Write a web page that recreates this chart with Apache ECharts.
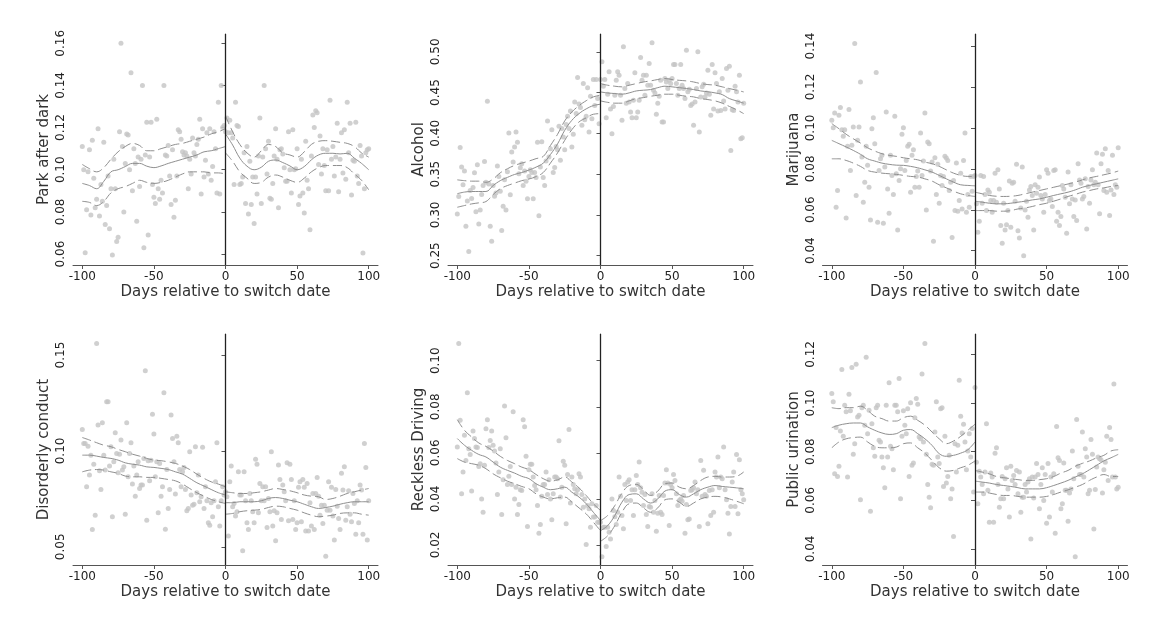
<!DOCTYPE html>
<html><head><meta charset="utf-8">
<script src="https://cdn.jsdelivr.net/npm/echarts@6/dist/echarts.min.js"></script>
<style>html,body{margin:0;padding:0;background:#fff}#c{width:1151px;height:631px}</style>
</head><body><div id="c"></div>
<script>
// ---------- data ----------
const dayStart = -100; // scatter values below are daily, from day -100 to day 100
const fitDaysLeft  = [-100,-95,-90,-85,-80,-75,-70,-65,-60,-55,-50,-45,-40,-35,-30,-25,-20,-15,-10,-5,0];
const fitDaysRight = [0,5,10,15,20,25,30,35,40,45,50,55,60,65,70,75,80,85,90,95,100];
const xTicks = [-100,-50,0,50,100];

// Park after dark
const parkPoints = [0.111,0.100,0.0606,0.081,0.099,0.1095,0.0785,0.114,0.096,0.082,
0.086,0.1195,0.078,0.093,0.085,0.113,0.074,0.083,0.097,0.072,
0.091,0.0595,0.105,0.091,0.066,0.068,0.118,0.160,0.111,0.080,
0.103,0.117,0.1165,0.100,0.146,0.090,0.110,0.103,0.0755,0.106,
0.092,0.105,0.140,0.063,0.107,0.1225,0.069,0.106,0.1225,0.093,
0.087,0.084,0.124,0.091,0.086,0.095,0.089,0.140,0.107,0.1065,
0.1115,0.097,0.0835,0.1095,0.0775,0.0855,0.097,0.119,0.118,0.1145,
0.1085,0.107,0.108,0.1065,0.091,0.105,0.098,0.115,0.108,0.1065,
0.112,0.1145,0.124,0.0885,0.1195,0.0965,0.1045,0.1175,0.098,0.1195,
0.095,0.1015,0.118,0.110,0.089,0.132,0.0885,0.140,0.120,0.121,
0.118,
0.1245,0.1175,0.1235,0.1175,0.115,0.093,0.132,0.121,0.1205,0.093,
0.0935,0.0965,0.108,0.084,0.111,0.079,0.104,0.0835,0.0965,0.0745,
0.0965,0.0885,0.1065,0.1245,0.084,0.106,0.140,0.110,0.098,0.1135,
0.0865,0.086,0.0935,0.1065,0.1195,0.105,0.082,0.1095,0.110,0.1075,
0.101,0.0945,0.0945,0.118,0.100,0.089,0.119,0.100,0.1005,0.110,
0.0835,0.0875,0.105,0.089,0.0795,0.1135,0.095,0.091,0.0715,0.1065,
0.126,0.120,0.128,0.127,0.1025,0.116,0.098,0.110,0.102,0.090,
0.1095,0.090,0.133,0.105,0.111,0.097,0.106,0.122,0.0895,0.105,
0.1175,0.0985,0.119,0.0955,0.132,0.108,0.122,0.088,0.1045,0.104,
0.1225,0.097,0.0935,0.1115,0.1065,0.0605,0.091,0.108,0.1095,0.110];
const parkFitL = [0.0935,0.0925,0.091,0.0945,0.099,0.100,0.1015,0.103,0.103,0.1017,0.101,0.1018,0.103,0.104,0.105,0.106,0.107,0.1085,0.109,0.110,0.111];
const parkHiL  = [0.1025,0.1005,0.099,0.101,0.105,0.1085,0.111,0.1125,0.1115,0.109,0.109,0.110,0.111,0.112,0.1125,0.1135,0.1145,0.1155,0.117,0.118,0.1195];
const parkLoL  = [0.085,0.0845,0.083,0.085,0.089,0.091,0.092,0.0935,0.095,0.094,0.0935,0.094,0.095,0.0965,0.098,0.099,0.099,0.099,0.0985,0.0985,0.098];
const parkFitR = [0.117,0.1117,0.1055,0.1017,0.100,0.1012,0.104,0.1046,0.1034,0.1018,0.100,0.1015,0.1047,0.107,0.1078,0.1078,0.1075,0.1078,0.1055,0.103,0.100];
const parkHiR  = [0.1255,0.118,0.112,0.108,0.106,0.109,0.112,0.111,0.108,0.107,0.106,0.1085,0.112,0.1135,0.1138,0.1135,0.113,0.1125,0.111,0.108,0.106];
const parkLoR  = [0.108,0.104,0.099,0.096,0.0935,0.094,0.0965,0.0975,0.0965,0.095,0.094,0.096,0.099,0.101,0.102,0.102,0.102,0.101,0.098,0.095,0.0905];

// Alcohol
const alcoholPoints = [0.301,0.3225,0.3825,0.3586,0.337,0.3537,0.286,0.317,0.2553,0.330,
0.320,0.3335,0.3516,0.304,0.3615,0.289,0.306,0.325,0.336,0.3656,
0.340,0.4393,0.338,0.286,0.2676,0.336,0.323,0.327,0.360,0.347,
0.329,0.281,0.3107,0.343,0.306,0.353,0.4004,0.3246,0.377,0.365,
0.3832,0.4016,0.389,0.3504,0.3578,0.3627,0.3361,0.3537,0.3414,0.3197,
0.3471,0.3553,0.352,0.3197,0.352,0.346,0.389,0.299,0.3586,0.3898,
0.346,0.336,0.366,0.4152,0.371,0.381,0.4045,0.352,0.358,0.384,
0.380,0.4086,0.367,0.406,0.3955,0.380,0.411,0.4209,0.406,0.4275,
0.3832,0.399,0.4385,0.4242,0.4684,0.436,0.4316,0.410,0.461,0.4168,
0.4209,0.456,0.4016,0.4455,0.418,0.466,0.434,0.466,0.4426,0.4119,
0.466,
0.4877,0.4578,0.466,0.419,0.448,0.4754,0.430,0.3996,0.433,0.4467,
0.465,0.4754,0.4713,0.4467,0.416,0.5061,0.4549,0.437,0.461,0.4385,
0.4262,0.419,0.4406,0.4742,0.419,0.4262,0.4406,0.493,0.465,0.4713,
0.4467,0.4713,0.459,0.4857,0.459,0.511,0.4529,0.4496,0.4234,0.437,
0.4455,0.465,0.414,0.414,0.4672,0.463,0.4549,0.465,0.461,0.4672,
0.4844,0.4844,0.461,0.4467,0.4549,0.4844,0.459,0.4549,0.4426,0.502,
0.451,0.454,0.434,0.436,0.410,0.4385,0.4549,0.500,0.4016,0.4447,
0.457,0.4603,0.4447,0.4496,0.4775,0.448,0.4221,0.4844,0.430,0.4742,
0.461,0.4275,0.451,0.428,0.4672,0.4398,0.430,0.4795,0.4529,0.4824,
0.3791,0.429,0.428,0.4578,0.451,0.4385,0.4713,0.3934,0.3947,0.437];
const alcoholFitL = [0.326,0.328,0.3287,0.3287,0.3287,0.336,0.342,0.346,0.3496,0.352,0.355,0.3586,0.3635,0.374,0.387,0.4037,0.416,0.4242,0.430,0.434,0.4357];
const alcoholHiL  = [0.343,0.342,0.3414,0.3414,0.340,0.344,0.3516,0.3566,0.3607,0.3635,0.366,0.369,0.3717,0.385,0.3988,0.4152,0.4262,0.434,0.440,0.4447,0.4467];
const alcoholLoL  = [0.3094,0.3115,0.3135,0.3148,0.3164,0.325,0.332,0.336,0.339,0.342,0.344,0.347,0.352,0.3635,0.376,0.3914,0.4045,0.414,0.419,0.4234,0.4242];
const alcoholFitR = [0.4508,0.4495,0.4488,0.448,0.4496,0.452,0.4529,0.4537,0.456,0.4578,0.457,0.456,0.455,0.4537,0.452,0.451,0.4496,0.4475,0.4426,0.4398,0.437];
const alcoholHiR  = [0.461,0.459,0.4578,0.457,0.459,0.461,0.463,0.4643,0.466,0.4672,0.466,0.465,0.4643,0.463,0.461,0.4598,0.459,0.457,0.4549,0.4529,0.4508];
const alcoholLoR  = [0.4398,0.438,0.437,0.437,0.4398,0.4426,0.4438,0.4455,0.4467,0.448,0.448,0.4467,0.4455,0.4447,0.4426,0.4414,0.4398,0.437,0.433,0.429,0.4242];

// Marijuana
const marijuanaPoints = [0.1037,0.1001,0.1073,0.0612,0.0694,0.1062,0.110,0.0991,0.0959,0.0991,
0.056,0.091,0.109,0.0792,0.0915,0.1005,0.1413,0.067,0.094,0.1005,
0.1225,0.0858,0.0637,0.0735,0.091,0.0817,0.071,0.055,0.0996,0.105,
0.0923,0.1271,0.0539,0.0792,0.0849,0.0866,0.0534,0.0809,0.1078,0.0702,
0.0583,0.0866,0.0768,0.0675,0.1057,0.0776,0.0501,0.0743,0.080,0.0969,
0.1001,0.0792,0.0841,0.091,0.092,0.0686,0.0866,0.0893,0.071,0.0763,
0.0789,0.071,0.0975,0.0768,0.0838,0.1073,0.0599,0.0931,0.0923,0.0789,
0.0833,0.0446,0.0854,0.0675,0.0822,0.0632,0.0768,0.0719,0.0763,0.0861,
0.0853,0.0841,0.0694,0.0735,0.0465,0.0743,0.0596,0.0828,0.0593,0.0645,
0.0779,0.0604,0.0841,0.0975,0.0588,0.0675,0.0612,0.0763,0.0691,0.0763,
0.0768,
0.0629,0.049,0.0544,0.0768,0.0632,0.0763,0.0675,0.0596,0.0697,0.0686,
0.0645,0.0588,0.0645,0.0779,0.0637,0.0795,0.0702,0.0523,0.0436,0.0632,
0.0501,0.0527,0.0596,0.074,0.0514,0.073,0.0735,0.0642,0.0822,0.0498,
0.0462,0.0609,0.0809,0.0375,0.0599,0.0642,0.0563,0.0697,0.0714,0.067,
0.0501,0.0722,0.0681,0.071,0.076,0.067,0.0653,0.0588,0.0675,0.0795,
0.0779,0.0645,0.0653,0.0616,0.0792,0.0795,0.0544,0.0588,0.0523,0.0567,
0.0719,0.0702,0.0661,0.0485,0.0784,0.0629,0.0722,0.0653,0.0567,0.0648,
0.0547,0.0825,0.0746,0.073,0.0653,0.0665,0.0751,0.0506,0.0714,0.0632,
0.0746,0.0795,0.0722,0.0735,0.0877,0.0722,0.058,0.0825,0.0871,0.0694,
0.0898,0.0686,0.0792,0.0572,0.0697,0.0866,0.0675,0.0722,0.071,0.0903];
const marijuanaFitL = [0.0939,0.0923,0.0907,0.089,0.0871,0.0849,0.0838,0.0828,0.0822,0.0818,0.0817,0.0812,0.0805,0.0795,0.0784,0.0768,0.0751,0.0735,0.0722,0.0719,0.0717];
const marijuanaHiL  = [0.1021,0.0996,0.0969,0.0947,0.0926,0.0903,0.0887,0.0874,0.0866,0.0861,0.0854,0.0849,0.0844,0.0833,0.0825,0.0812,0.0795,0.0779,0.0768,0.0763,0.0763];
const marijuanaLoL  = [0.0849,0.0849,0.0841,0.0828,0.0812,0.0792,0.0784,0.0779,0.0776,0.0773,0.0768,0.0763,0.076,0.0751,0.074,0.0722,0.0707,0.0691,0.0678,0.067,0.0665];
const marijuanaFitR = [0.0642,0.0637,0.0632,0.0629,0.0629,0.0632,0.0637,0.0642,0.0648,0.0653,0.0661,0.067,0.0678,0.0686,0.0697,0.071,0.0719,0.0727,0.0735,0.0743,0.0751];
const marijuanaHiR  = [0.0686,0.0678,0.067,0.0666,0.0665,0.0666,0.067,0.0678,0.0686,0.0694,0.0702,0.071,0.0718,0.0726,0.0735,0.0746,0.0756,0.0763,0.0771,0.0779,0.0789];
const marijuanaLoR  = [0.0596,0.0596,0.0596,0.0593,0.0593,0.0596,0.0604,0.0609,0.0616,0.0625,0.0632,0.0642,0.0653,0.0665,0.0675,0.0686,0.0694,0.0702,0.0707,0.0714,0.0719];

// Disorderly conduct
const disorderlyPoints = [0.1112,0.1039,0.1039,0.0813,0.1025,0.0874,0.0978,0.059,0.0931,0.0665,
0.1561,0.1135,0.0897,0.0799,0.1147,0.0978,0.090,0.1257,0.1257,0.0921,
0.1022,0.0657,0.0943,0.1095,0.0987,0.0886,0.0983,0.1057,0.090,0.0917,
0.067,0.1147,0.0865,0.0987,0.1043,0.0827,0.0921,0.0764,0.0874,0.0943,
0.0804,0.0822,0.0822,0.0961,0.1418,0.0639,0.0949,0.0844,0.0952,0.1192,
0.1088,0.0865,0.0943,0.0677,0.0935,0.0764,0.0813,0.1303,0.0592,0.0903,
0.070,0.0799,0.1187,0.1065,0.0943,0.0775,0.1077,0.1043,0.0903,0.0813,
0.0891,0.0914,0.0799,0.0688,0.070,0.0996,0.077,0.0717,0.0722,0.1022,
0.0782,0.0874,0.0735,0.0761,0.1019,0.070,0.0813,0.074,0.0625,0.0613,
0.073,0.0657,0.074,0.0839,0.1043,0.0709,0.0608,0.074,0.0813,0.077,
0.0787,
0.0761,0.0556,0.0839,0.0921,0.0709,0.0726,0.066,0.0683,0.0891,0.077,
0.077,0.0479,0.0891,0.074,0.0625,0.059,0.0778,0.074,0.0683,0.0625,
0.0956,0.0931,0.0677,0.083,0.074,0.0813,0.074,0.0813,0.0601,0.0752,
0.0683,0.0996,0.0608,0.0688,0.0531,0.0677,0.0926,0.0851,0.0643,0.0822,
0.0787,0.074,0.0938,0.0636,0.0931,0.0851,0.0643,0.074,0.059,0.0625,
0.081,0.0839,0.063,0.0851,0.081,0.0583,0.083,0.0583,0.073,0.0608,
0.0778,0.059,0.0778,0.0862,0.0764,0.0665,0.0717,0.0622,0.0717,0.0451,
0.0691,0.0839,0.0691,0.081,0.066,0.0535,0.0799,0.0712,0.0648,0.059,
0.0883,0.0796,0.0917,0.0639,0.0709,0.0792,0.067,0.063,0.0778,0.0726,
0.0566,0.074,0.0625,0.0822,0.0796,0.0566,0.1039,0.0914,0.0535,0.074];
const disorderlyFitL = [0.0978,0.0978,0.0973,0.0966,0.0961,0.0952,0.0938,0.0931,0.0926,0.0917,0.0914,0.0909,0.0903,0.0891,0.0879,0.0857,0.0834,0.0817,0.0799,0.0782,0.077];
const disorderlyHiL  = [0.107,0.1057,0.1043,0.103,0.1022,0.1008,0.0996,0.0983,0.0973,0.0961,0.0952,0.0949,0.0943,0.0935,0.0921,0.0903,0.0879,0.0857,0.0839,0.0827,0.0813];
const disorderlyLoL  = [0.0891,0.090,0.0903,0.090,0.0891,0.0883,0.0869,0.0865,0.0865,0.0862,0.0862,0.0857,0.0851,0.0844,0.0827,0.0804,0.0782,0.0764,0.0747,0.0735,0.0726];
const disorderlyFitR = [0.073,0.073,0.0735,0.0735,0.0735,0.074,0.0752,0.0757,0.0752,0.0743,0.0735,0.0722,0.0709,0.070,0.0705,0.0712,0.0722,0.073,0.0735,0.0735,0.0735];
const disorderlyHiR  = [0.0787,0.0782,0.0778,0.0778,0.0782,0.0787,0.0796,0.0804,0.0799,0.0792,0.0782,0.077,0.0764,0.0761,0.0747,0.0752,0.0764,0.0778,0.0787,0.0796,0.0804];
const disorderlyLoR  = [0.067,0.0674,0.0683,0.0688,0.0691,0.0695,0.0705,0.0712,0.0709,0.070,0.0691,0.0677,0.0665,0.0657,0.066,0.0665,0.0674,0.0677,0.0677,0.067,0.0665];

// Reckless Driving
const recklessPoints = [0.0625,0.1075,0.0742,0.0422,0.0517,0.0676,0.0567,0.0861,0.0618,0.0593,
0.0434,0.0695,0.0662,0.0625,0.0623,0.0541,0.0553,0.040,0.0342,0.0546,
0.0705,0.0744,0.0623,0.0654,0.0695,0.0633,0.0608,0.0556,0.0419,0.0517,
0.0618,0.0332,0.0483,0.0803,0.0666,0.0463,0.0498,0.0541,0.0463,0.0778,
0.040,0.0451,0.0332,0.0376,0.044,0.0437,0.0744,0.0713,0.0585,0.028,
0.0527,0.055,0.055,0.0495,0.0458,0.044,0.0371,0.0251,0.0289,0.0411,
0.0463,0.0463,0.0517,0.0419,0.0483,0.040,0.0309,0.0422,0.0495,0.0495,
0.0487,0.0652,0.0408,0.0451,0.0564,0.0546,0.0292,0.0506,0.0701,0.0382,
0.0495,0.0463,0.0444,0.0422,0.044,0.0509,0.0495,0.0419,0.0364,0.040,
0.0202,0.0371,0.0357,0.0277,0.0379,0.0321,0.0321,0.0371,0.0299,0.0299,
0.0299,
0.0149,0.0277,0.0277,0.0193,0.0277,0.0255,0.0226,0.040,0.035,0.0323,
0.0289,0.0342,0.0495,0.0411,0.0328,0.027,0.0463,0.0393,0.0473,0.0483,
0.0393,0.044,0.0328,0.044,0.0502,0.0463,0.056,0.0448,0.0429,0.0371,
0.0419,0.0332,0.028,0.0367,0.0364,0.0422,0.0342,0.0393,0.026,0.0338,
0.0415,0.0342,0.0332,0.0415,0.0469,0.0527,0.0469,0.0284,0.0463,0.0448,
0.0506,0.048,0.0422,0.0371,0.0393,0.040,0.039,0.0415,0.0251,0.0376,
0.0309,0.0313,0.0437,0.044,0.0448,0.0473,0.0422,0.044,0.028,0.0567,
0.0411,0.0524,0.0419,0.0411,0.0292,0.0437,0.0328,0.044,0.0342,0.0517,
0.0495,0.0582,0.0448,0.0495,0.0487,0.0625,0.044,0.0396,0.0338,0.0248,
0.0367,0.0473,0.0517,0.0367,0.0593,0.0335,0.057,0.044,0.0422,0.0396];
const recklessFitL = [0.0662,0.0633,0.0611,0.0593,0.0582,0.056,0.0538,0.0524,0.0512,0.0498,0.0488,0.0466,0.0451,0.044,0.0444,0.0451,0.0429,0.0408,0.0379,0.0342,0.0306];
const recklessHiL  = [0.0744,0.0698,0.0669,0.0643,0.0628,0.0608,0.0585,0.0567,0.0553,0.0538,0.0527,0.0506,0.0488,0.0477,0.0483,0.0495,0.0473,0.0448,0.0415,0.0379,0.035];
const recklessLoL  = [0.0575,0.056,0.0553,0.0546,0.0531,0.0509,0.0492,0.0477,0.0466,0.0454,0.0444,0.0422,0.0408,0.040,0.0405,0.0408,0.0386,0.0361,0.0335,0.0299,0.0262];
const recklessFitR = [0.0262,0.0284,0.0328,0.0386,0.0419,0.0422,0.040,0.0382,0.040,0.0434,0.044,0.0419,0.0408,0.0422,0.044,0.0451,0.0458,0.0454,0.0451,0.0448,0.0444];
const recklessHiR  = [0.0306,0.0328,0.0371,0.0425,0.0458,0.0463,0.044,0.0415,0.0434,0.0466,0.0469,0.0451,0.0444,0.0458,0.048,0.0495,0.0498,0.0495,0.0495,0.0498,0.0517];
const recklessLoR  = [0.0216,0.024,0.0284,0.0342,0.0379,0.0382,0.0361,0.0342,0.0361,0.0396,0.040,0.0386,0.0367,0.0382,0.040,0.0408,0.0411,0.0408,0.040,0.039,0.0379];

// Public urination
const urinationPoints = [0.1039,0.1005,0.0709,0.0899,0.0698,0.074,0.0885,0.1138,0.0863,0.0991,
0.0964,0.0696,0.1036,0.0968,0.1146,0.0789,0.0833,0.116,0.0943,0.095,
0.0602,0.0981,0.0991,0.0909,0.1188,0.0874,0.097,0.0555,0.0915,0.0816,
0.0781,0.0981,0.0991,0.0847,0.084,0.0778,0.0734,0.0652,0.0991,0.0778,
0.1083,0.0822,0.0812,0.0726,0.0991,0.0991,0.0964,0.1101,0.0606,0.0863,
0.0968,0.0909,0.0874,0.0977,0.0698,0.1001,0.0744,0.0753,0.094,0.1019,
0.0995,0.086,0.0853,0.1119,0.084,0.1245,0.0789,0.0665,0.0613,0.0569,
0.0748,0.0744,0.0881,0.1005,0.0778,0.0751,0.0977,0.0981,0.0657,0.0863,
0.0671,0.0698,0.0785,0.0606,0.0647,0.0451,0.0833,0.0716,0.0826,0.1094,
0.0946,0.0877,0.0913,0.084,0.0726,0.0803,0.0874,0.0778,0.0895,0.0634,
0.1064,
0.0757,0.0586,0.072,0.0696,0.0665,0.0627,0.0716,0.0915,0.0641,0.051,
0.0712,0.0696,0.051,0.0794,0.0816,0.0665,0.0572,0.0606,0.0698,0.0606,
0.0689,0.0734,0.0647,0.0531,0.074,0.0682,0.0702,0.0665,0.0723,0.0627,
0.0716,0.0551,0.0613,0.0613,0.0665,0.0634,0.0675,0.0689,0.0441,0.0696,
0.061,0.0696,0.0751,0.0706,0.0565,0.0665,0.0734,0.0599,0.0706,0.0506,
0.0751,0.0531,0.0696,0.0634,0.0709,0.0465,0.0904,0.0775,0.0764,0.0565,
0.0586,0.0753,0.0641,0.0641,0.0514,0.063,0.0647,0.0803,0.0689,0.0368,
0.0932,0.074,0.0706,0.0706,0.0881,0.0696,0.0812,0.0778,0.0627,0.0641,
0.085,0.0789,0.0482,0.0645,0.0737,0.0778,0.0771,0.0767,0.063,0.0726,
0.0757,0.0863,0.0682,0.0899,0.085,0.0696,0.1078,0.0696,0.0647,0.0654];
const urinationFitL = [0.0899,0.0909,0.0915,0.0918,0.0918,0.0902,0.0888,0.0877,0.0871,0.0874,0.0888,0.0891,0.0874,0.0853,0.0826,0.0792,0.0781,0.0785,0.0794,0.0808,0.084];
const urinationHiL  = [0.0981,0.0977,0.0981,0.0981,0.0987,0.097,0.0946,0.0936,0.0926,0.0926,0.094,0.0946,0.0929,0.0909,0.0881,0.0853,0.0833,0.0844,0.0863,0.0888,0.0913];
const urinationLoL  = [0.0816,0.084,0.0853,0.0858,0.086,0.084,0.0822,0.0816,0.0816,0.0819,0.0833,0.0836,0.0816,0.0794,0.0764,0.0734,0.072,0.0723,0.0734,0.0744,0.0762];
const urinationFitR = [0.0679,0.0675,0.0671,0.0665,0.0661,0.0657,0.0652,0.0647,0.0647,0.0647,0.0652,0.0661,0.0671,0.0682,0.0696,0.0709,0.0726,0.0744,0.0762,0.0775,0.0789];
const urinationHiR  = [0.0723,0.0716,0.0709,0.0698,0.0693,0.0689,0.0685,0.0682,0.0682,0.0685,0.0689,0.0698,0.0712,0.0723,0.074,0.0752,0.0762,0.0775,0.0785,0.0803,0.0808];
const urinationLoR  = [0.0634,0.0634,0.063,0.0624,0.062,0.062,0.0616,0.0613,0.0613,0.0613,0.0616,0.0624,0.0634,0.0643,0.0654,0.0665,0.0682,0.0696,0.0706,0.0698,0.0698];

// y-axis tick labels per panel
const parkTicks = [0.06,0.08,0.10,0.12,0.14,0.16];
const alcoholTicks = [0.25,0.30,0.35,0.40,0.45,0.50];
const marijuanaTicks = [0.04,0.06,0.08,0.10,0.12,0.14];
const disorderlyTicks = [0.05,0.10,0.15];
const recklessTicks = [0.02,0.04,0.06,0.08,0.10];
const urinationTicks = [0.04,0.06,0.08,0.10,0.12];

// ---------- layout ----------
const panels = [
  {name:'Park after dark',    pts:parkPoints,       fl:parkFitL, hl:parkHiL, ll:parkLoL, fr:parkFitR, hr:parkHiR, lr:parkLoR, ticks:parkTicks, ymin:0.0548, ymax:0.1644, left:73,  top:34},
  {name:'Alcohol',            pts:alcoholPoints,    fl:alcoholFitL, hl:alcoholHiL, ll:alcoholLoL, fr:alcoholFitR, hr:alcoholHiR, lr:alcoholLoR, ticks:alcoholTicks, ymin:0.2386, ymax:0.5218, left:448, top:34},
  {name:'Marijuana',          pts:marijuanaPoints,  fl:marijuanaFitL, hl:marijuanaHiL, ll:marijuanaLoL, fr:marijuanaFitR, hr:marijuanaHiR, lr:marijuanaLoR, ticks:marijuanaTicks, ymin:0.033, ymax:0.1459, left:822.5, top:34},
  {name:'Disorderly conduct', pts:disorderlyPoints, fl:disorderlyFitL, hl:disorderlyHiL, ll:disorderlyLoL, fr:disorderlyFitR, hr:disorderlyHiR, lr:disorderlyLoR, ticks:disorderlyTicks, ymin:0.0405, ymax:0.161, left:73,  top:334},
  {name:'Reckless Driving',   pts:recklessPoints,   fl:recklessFitL, hl:recklessHiL, ll:recklessLoL, fr:recklessFitR, hr:recklessHiR, lr:recklessLoR, ticks:recklessTicks, ymin:0.0113, ymax:0.1116, left:448, top:334},
  {name:'Public urination',   pts:urinationPoints,  fl:urinationFitL, hl:urinationHiL, ll:urinationLoL, fr:urinationFitR, hr:urinationHiR, lr:urinationLoR, ticks:urinationTicks, ymin:0.0334, ymax:0.1284, left:822.5, top:334}
];

const FONT = 'DejaVu Sans';
const grid = [], xAxis = [], yAxis = [], series = [];
const pair = (xs, ys) => ys.map((v, i) => [xs[i], v]);
const DASH = [9, 4];

panels.forEach((p, k) => {
  grid.push({left:p.left, top:p.top, width:305, height:231, containLabel:false});
  xAxis.push({
    gridIndex:k, type:'value', min:-106.5, max:106.5,
    axisLine:{show:true, lineStyle:{color:'#555', width:1}},
    axisTick:{show:true, length:4, customValues:xTicks, lineStyle:{color:'#555'}},
    axisLabel:{customValues:xTicks, fontFamily:FONT, fontSize:12, color:'#222', margin:6},
    splitLine:{show:false},
    name:'Days relative to switch date', nameLocation:'middle', nameGap:20,
    nameTextStyle:{fontFamily:FONT, fontSize:15, color:'#333'}
  });
  yAxis.push({
    gridIndex:k, type:'value', min:p.ymin, max:p.ymax,
    axisLine:{show:true, lineStyle:{color:'#555', width:1}},
    axisTick:{show:true, length:4, customValues:p.ticks, lineStyle:{color:'#555'}},
    axisLabel:{customValues:p.ticks, rotate:90, fontFamily:FONT, fontSize:12, color:'#222', margin:6,
      formatter:v => v.toFixed(2)},
    splitLine:{show:false},
    name:p.name, nameLocation:'middle', nameGap:21,
    nameTextStyle:{fontFamily:FONT, fontSize:15, color:'#333'}
  });
  series.push({
    type:'scatter', xAxisIndex:k, yAxisIndex:k, symbolSize:5, silent:true,
    itemStyle:{color:'#c4c4c4'},
    data:p.pts.map((v, i) => [dayStart + i, v]),
    markLine:{silent:true, symbol:'none', label:{show:false},
      lineStyle:{color:'#222', width:1.3, type:'solid'}, data:[{xAxis:0}]}
  });
  const lineDefs = [
    [fitDaysLeft, p.fl, 'solid'], [fitDaysLeft, p.hl, DASH], [fitDaysLeft, p.ll, DASH],
    [fitDaysRight, p.fr, 'solid'], [fitDaysRight, p.hr, DASH], [fitDaysRight, p.lr, DASH]
  ];
  lineDefs.forEach(([xs, ys, t]) => {
    series.push({
      type:'line', xAxisIndex:k, yAxisIndex:k, data:pair(xs, ys), smooth:0.4,
      showSymbol:false, silent:true,
      lineStyle:{color:'#8f8f8f', width:1, type:t}
    });
  });
});

const chart = echarts.init(document.getElementById('c'), null, {renderer:'canvas'});
chart.setOption({animation:false, backgroundColor:'#fff', grid, xAxis, yAxis, series});
</script>
</body></html>
